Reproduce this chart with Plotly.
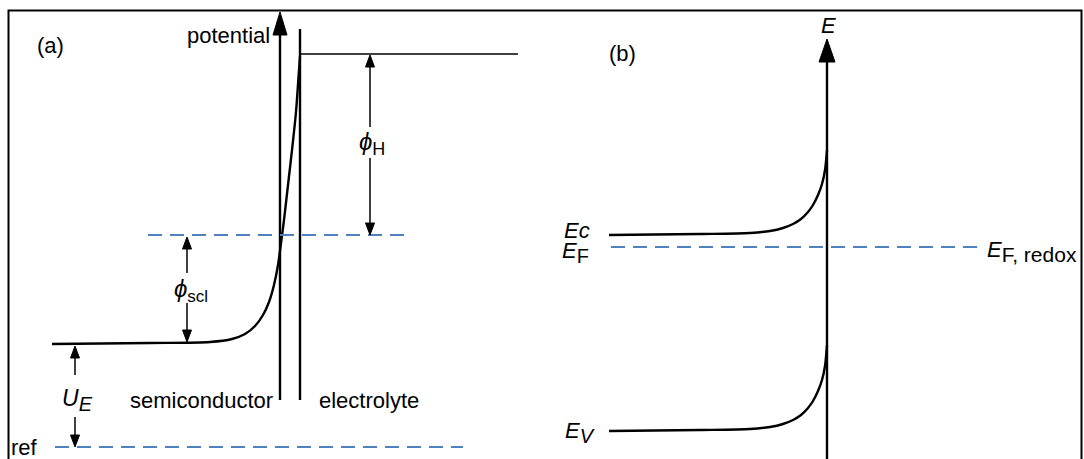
import plotly.graph_objects as go

W, H = 1084, 459
FONT = "Liberation Sans, Arial, sans-serif"
BLUE = "#4f81bd"

# ---------------- panel (a): potential across the interface ----------------
a_profile_x = [52, 150, 210, 232, 245, 255, 263, 269, 274, 278, 281, 284, 288, 292, 296, 299, 300]
a_profile_y = [115, 116, 117, 120, 125, 133, 144, 157, 174, 194, 216, 239, 274, 309, 347, 389, 403]
a_ref_level = 12          # reference electrode level
a_redox_level = 224       # redox potential in the electrolyte
a_bulk_level = 115        # bulk semiconductor potential
a_electrolyte_level = 405 # potential beyond the Helmholtz layer
a_axis_x = 280            # potential axis
a_interface_x = 300       # semiconductor / electrolyte boundary

# ---------------- panel (b): band diagram ----------------
b_ec_x = [609, 700, 750, 770, 783, 793, 801, 808, 813, 818, 822, 825, 827]
b_ec_y = [224, 225, 226, 228, 231, 235, 240, 247, 254, 264, 275, 289, 309]
b_ev_x = [609, 700, 750, 770, 783, 793, 801, 808, 813, 818, 822, 825, 827]
b_ev_y = [28, 29, 30, 32, 35, 39, 44, 51, 58, 68, 79, 93, 114]
b_ef_level = 212
b_axis_x = 827

fig = go.Figure()


def line(xs, ys, width=2.2, color="black", dash=None, shape="linear"):
    fig.add_trace(go.Scatter(
        x=xs, y=ys, mode="lines", hoverinfo="skip", showlegend=False,
        line=dict(color=color, width=width, dash=dash, shape=shape, smoothing=0.8)))


def head(x, y, direction, length, half):
    """Filled triangular arrowhead with its tip at (x, y)."""
    base = y - length if direction == "up" else y + length
    fig.add_shape(type="path", xref="x", yref="y",
                  path=f"M{x},{y} L{x - half},{base} L{x + half},{base} Z",
                  fillcolor="black", line=dict(color="black", width=1))


def dim_arrow(x, y_low, y_high, gap_low, gap_high):
    """Double-headed dimension arrow, broken around its label."""
    line([x, x], [y_low + 8, gap_low], width=1.5)
    line([x, x], [gap_high, y_high - 8], width=1.5)
    head(x, y_high, "up", 12, 4.5)
    head(x, y_low, "down", 12, 4.5)


def text(x, y, s, size=22, anchor="center"):
    fig.add_annotation(x=x, y=y, xref="x", yref="y", text=s, showarrow=False,
                       xanchor=anchor, yanchor="middle",
                       font=dict(family=FONT, size=size, color="black"))


def sub(s, size):
    return f"<sub><span style='font-size:{size}px'>{s}</span></sub>"


# panel (a) geometry
line([a_axis_x, a_axis_x], [59, 430], width=2.4)
head(a_axis_x, 447, "up", 23, 7)
line([a_interface_x, a_interface_x], [59, 430], width=2.4)
line([a_interface_x, 518], [a_electrolyte_level, a_electrolyte_level], width=1.5)
line(a_profile_x, a_profile_y, width=2.4, shape="spline")
line([148, 406], [a_redox_level, a_redox_level], width=2, color=BLUE, dash="14px,8px")
line([55, 463], [a_ref_level, a_ref_level], width=2, color=BLUE, dash="14px,8px")

dim_arrow(370, a_redox_level, a_electrolyte_level - 1, 301, 332)
dim_arrow(187, a_bulk_level + 2, a_redox_level - 2, 156, 186)
dim_arrow(75, a_ref_level, a_bulk_level - 2, 42, 84)

text(50, 414, "(a)")
text(272, 424, "potential", anchor="right")
text(372, 316, "<i>ϕ</i>" + sub("H", 18), size=24)
text(191, 169, "<i>ϕ</i>" + sub("scl", 17), size=24)
text(77, 59, "<i>U</i>" + sub("<i>E</i>", 20), size=23)
text(9, 12, "ref", anchor="left")
text(275, 59, "semiconductor", anchor="right")
text(317, 59, "electrolyte", anchor="left")

# panel (b) geometry
line([b_axis_x, b_axis_x], [-5, 400], width=2.4)
head(b_axis_x, 420, "up", 23, 8)
line(b_ec_x, b_ec_y, width=2.4, shape="spline")
line(b_ev_x, b_ev_y, width=2.4, shape="spline")
line([611, 978], [b_ef_level, b_ef_level], width=2, color=BLUE, dash="14px,8px")

text(622, 406, "(b)")
text(828, 434, "<i>E</i>", size=22)
text(592, 229, "<i>Ec</i>", size=22, anchor="right")
text(591, 207, "<i>E</i>" + sub("F", 20), size=22, anchor="right")
text(597, 27, "<i>E</i>" + sub("<i>V</i>", 20), size=22, anchor="right")
text(985, 208, "<i>E</i>" + sub("F, redox", 21), size=22, anchor="left")

# frame around the figure
fig.add_shape(type="rect", xref="paper", yref="paper",
              x0=8.5 / W, x1=1081.5 / W, y0=-0.2, y1=1 - 10.5 / H,
              line=dict(color="black", width=2), fillcolor="rgba(0,0,0,0)")

fig.update_layout(
    width=W, height=H, margin=dict(l=0, r=0, t=0, b=0),
    paper_bgcolor="white", plot_bgcolor="white",
    xaxis=dict(range=[0, W], visible=False, fixedrange=True),
    yaxis=dict(range=[0, H], visible=False, fixedrange=True),
    font=dict(family=FONT, color="black"),
)

fig.write_html("out.html")
